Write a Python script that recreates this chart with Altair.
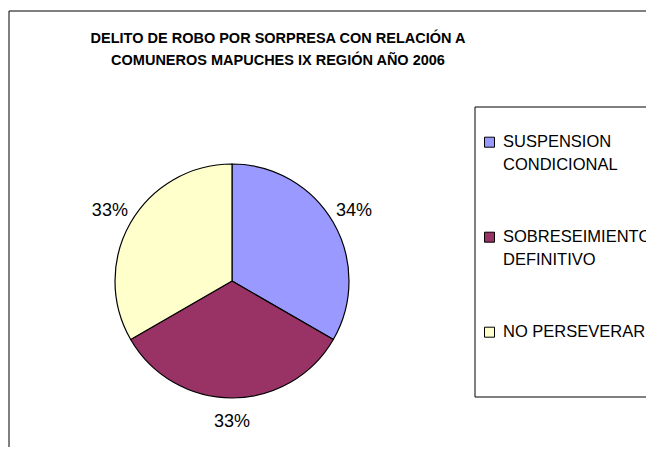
import altair as alt
import pandas as pd

categorias = ["SUSPENSION CONDICIONAL", "SOBRESEIMIENTO DEFINITIVO", "NO PERSEVERAR"]
casos = [1, 1, 1]
etiquetas = ["34%", "33%", "33%"]
leyenda = ["SUSPENSION\nCONDICIONAL", "SOBRESEIMIENTO\nDEFINITIVO", "NO PERSEVERAR"]
orden = [1, 2, 3]
colores = ["#9999FF", "#993366", "#FFFFCC"]
titulo = ["DELITO DE ROBO POR SORPRESA CON RELACIÓN A",
          "COMUNEROS MAPUCHES IX REGIÓN AÑO 2006"]

df = pd.DataFrame({"categoria": categorias, "casos": casos, "etiqueta": etiquetas,
                   "leyenda": leyenda, "orden": orden})
frame_df = pd.DataFrame({"k": [0]})

TOP = 3
W, H = 638, 439 - TOP
OX, OY = 8, 8 + TOP          # page position of the plot origin
CX, CY = 232 - OX, 281 - OY  # pie centre
FONT = "Liberation Sans, Arial, sans-serif"

base = alt.Chart(df)
color = alt.Color("categoria:N", scale=alt.Scale(domain=categorias, range=colores), legend=None)
theta = alt.Theta("casos:Q", stack=True)

pie = base.mark_arc(outerRadius=117, stroke="black", strokeWidth=1.2).encode(
    theta=theta, order=alt.Order("orden:Q"), color=color,
    x=alt.value(CX), y=alt.value(CY))

labels = base.mark_text(radius=141, fontSize=18, font=FONT, color="black").encode(
    theta=theta, order=alt.Order("orden:Q"), text="etiqueta:N",
    x=alt.value(CX), y=alt.value(CY))

ly = alt.Y("orden:Q", scale=alt.Scale(domain=[1, 3], range=[142.2 - OY, 332.2 - OY]), axis=None)

squares = base.mark_square(size=100, opacity=1, stroke="black", strokeWidth=1).encode(
    x=alt.value(489.5 - OX), y=ly, color=color)

legtext = base.mark_text(align="left", baseline="alphabetic", dy=5, fontSize=16.5, font=FONT,
                         lineBreak="\n", lineHeight=23, color="black").encode(
    x=alt.value(503 - OX), y=ly, text="leyenda:N")

frame = alt.Chart(frame_df).mark_rect(fillOpacity=0, stroke="black", strokeWidth=1).encode(
    x=alt.value(1), x2=alt.value(720), y=alt.value(0), y2=alt.value(600))

legbox = alt.Chart(frame_df).mark_rect(fillOpacity=0, stroke="black", strokeWidth=1).encode(
    x=alt.value(475 - OX), x2=alt.value(720), y=alt.value(107 - OY), y2=alt.value(397 - OY))

chart = alt.layer(frame, legbox, pie, labels, squares, legtext).properties(
    width=W, height=H,
    padding={"left": 0, "top": TOP, "right": 0, "bottom": 0},
    autosize=alt.AutoSizeParams(type="none"),
    title=alt.TitleParams(titulo, anchor="middle", frame="group", dx=278 - OX - W / 2, dy=62,
                          fontSize=14.5,
                          font="Liberation Sans Narrow, Arial Narrow, Liberation Sans, Arial",
                          fontWeight="bold", lineHeight=22, color="black"),
).configure_view(stroke=None)

chart.save("out.html", embed_options={"renderer": "svg", "actions": False})
